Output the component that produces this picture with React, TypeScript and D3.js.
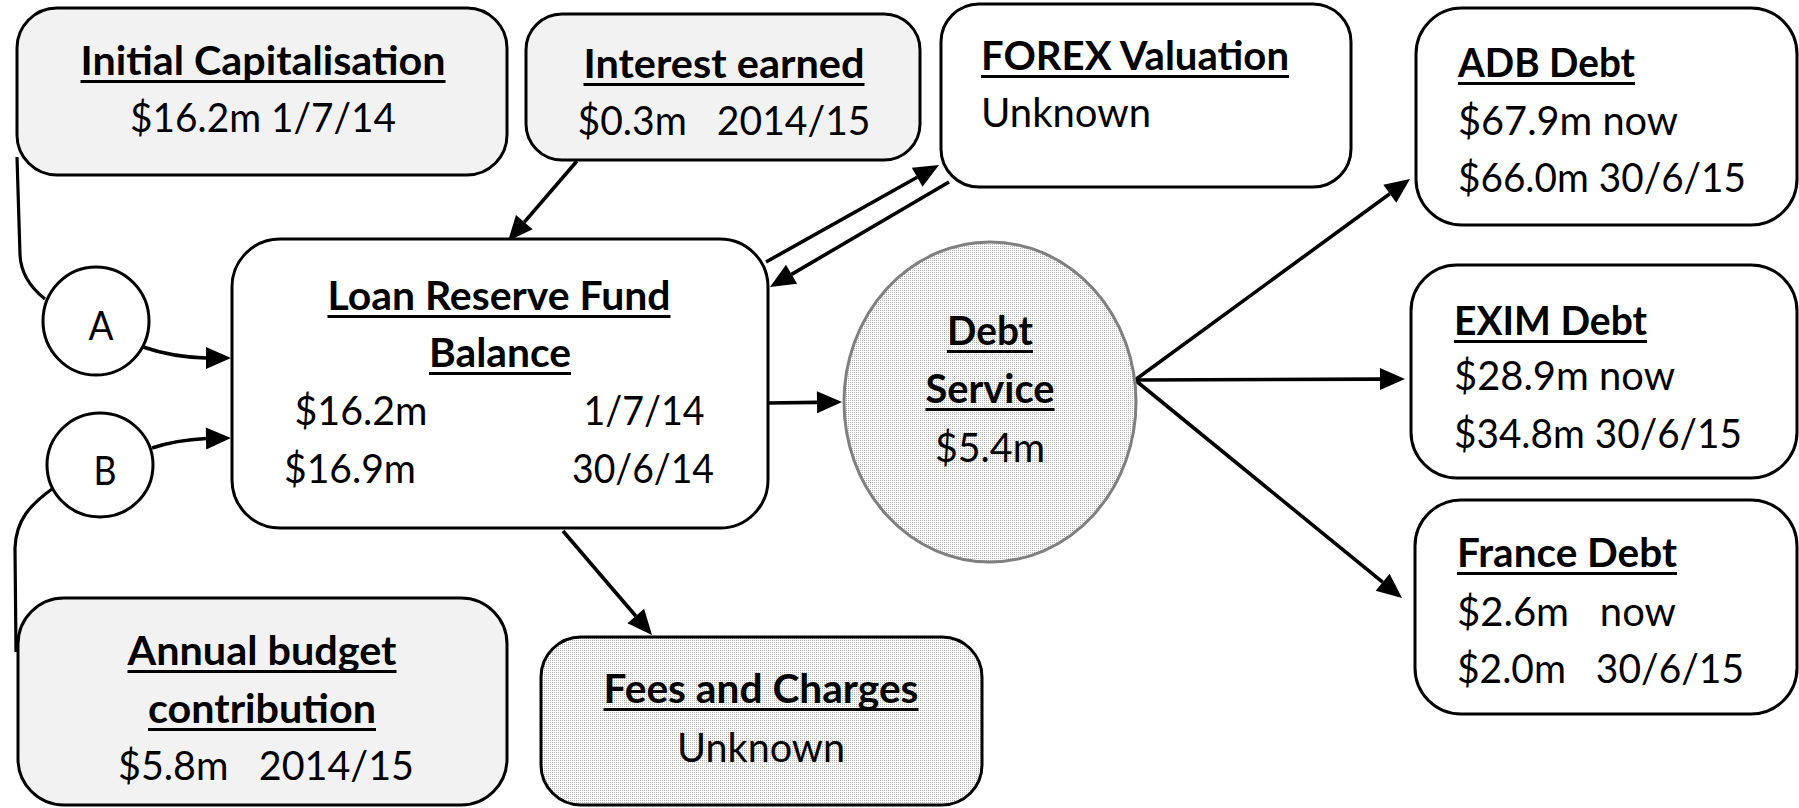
import React from "react";
import * as d3 from "d3";

// ---------- data (text content) ----------
const boxTitles = [
  "Initial Capitalisation",
  "Interest earned",
  "FOREX Valuation",
  "ADB Debt",
  "EXIM Debt",
  "France Debt",
  "Fees and Charges",
];
const boxValues = [
  ["$16.2m 1/7/14"],
  ["$0.3m\u00a0\u00a0 2014/15"],
  ["Unknown"],
  ["$67.9m now", "$66.0m 30/6/15"],
  ["$28.9m now", "$34.8m 30/6/15"],
  ["$2.6m\u00a0\u00a0 now", "$2.0m\u00a0\u00a0 30/6/15"],
  ["Unknown"],
];
const lrfTitle = ["Loan Reserve Fund", "Balance"];
const lrfAmounts = ["$16.2m", "$16.9m"];
const lrfDates = ["1/7/14", "30/6/14"];
const debtTitle = ["Debt", "Service"];
const debtValue = ["$5.4m"];
const annualTitle = ["Annual budget", "contribution"];
const annualValue = ["$5.8m\u00a0\u00a0 2014/15"];
const connectorLabels = ["A", "B"];

// ---------- layout ----------
const FONT = "Lato, 'Open Sans', 'DejaVu Sans', sans-serif";
const FS = 40;
const GREY = "#f2f2f2";

type Txt = { t: string; x: number; y: number; w: number; bold?: boolean; anchor?: "start" | "middle"; ul?: boolean };

const boxLayout = [
  { x: 17, y: 8, w: 490, h: 167, r: 40, fill: GREY, align: "middle", tx: 263, ty: [75, 132], tw: [365, 266] },
  { x: 526, y: 14, w: 394, h: 146, r: 36, fill: GREY, align: "middle", tx: 724, ty: [78, 135], tw: [281, 293] },
  { x: 941, y: 4, w: 410, h: 183, r: 38, fill: "#fff", align: "start", tx: 981, ty: [70, 127], tw: [308, 170] },
  { x: 1416, y: 8, w: 381, h: 217, r: 46, fill: "#fff", align: "start", tx: 1458, ty: [77, 135, 192], tw: [177, 220, 288] },
  { x: 1411, y: 265, w: 386, h: 213, r: 46, fill: "#fff", align: "start", tx: 1454, ty: [335, 390, 448], tw: [193, 221, 288] },
  { x: 1415, y: 500, w: 382, h: 214, r: 46, fill: "#fff", align: "start", tx: 1457, ty: [567, 626, 683], tw: [220, 219, 287] },
  { x: 541, y: 637, w: 441, h: 168, r: 40, fill: "url(#dots)", align: "middle", tx: 761, ty: [703, 762], tw: [315, 168] },
];

function arrowHead(x1: number, y1: number, x2: number, y2: number, len = 25, wid = 22) {
  const dx = x2 - x1, dy = y2 - y1;
  const d = Math.hypot(dx, dy);
  const ux = dx / d, uy = dy / d;
  const bx = x2 - ux * len, by = y2 - uy * len;
  const px = -uy * wid / 2, py = ux * wid / 2;
  return { base: [bx, by], tri: `M${x2},${y2}L${bx + px},${by + py}L${bx - px},${by - py}Z` };
}

const straightArrows: [number, number, number, number][] = [
  [577, 161, 508, 241],
  [766, 262, 939, 165],
  [949, 182, 770, 287],
  [768, 403, 842, 402],
  [563, 531, 652, 635],
  [1135, 380, 1410, 179],
  [1135, 380, 1405, 379],
  [1135, 380, 1402, 598],
];

function T({ t, x, y, w, bold, anchor = "middle", ul }: Txt) {
  const x0 = anchor === "middle" ? x - w / 2 : x;
  return (
    <g>
      <text
        x={x}
        y={y}
        fontFamily={FONT}
        fontSize={FS}
        fontWeight={bold ? 700 : 400}
        textAnchor={anchor}
        textLength={w}
        lengthAdjust="spacingAndGlyphs"
        fill="#000"
      >
        {t}
      </text>
      {ul && <line x1={x0} x2={x0 + w} y1={y + 6.5} y2={y + 6.5} stroke="#000" strokeWidth={3} />}
    </g>
  );
}

export default function App() {
  const texts: Txt[] = [];
  boxLayout.forEach((b, i) => {
    texts.push({ t: boxTitles[i], x: b.tx, y: b.ty[0], w: b.tw[0], bold: true, anchor: b.align as any, ul: true });
    boxValues[i].forEach((v, j) => {
      texts.push({ t: v, x: b.tx, y: b.ty[j + 1], w: b.tw[j + 1], anchor: b.align as any });
    });
  });
  texts.push({ t: lrfTitle[0], x: 499, y: 310, w: 343, bold: true, ul: true });
  texts.push({ t: lrfTitle[1], x: 500, y: 367, w: 142, bold: true, ul: true });
  texts.push({ t: lrfAmounts[0], x: 361, y: 425, w: 133 });
  texts.push({ t: lrfDates[0], x: 644, y: 425, w: 121 });
  texts.push({ t: lrfAmounts[1], x: 350, y: 483, w: 132 });
  texts.push({ t: lrfDates[1], x: 643, y: 483, w: 142 });
  texts.push({ t: debtTitle[0], x: 990, y: 345, w: 86, bold: true, ul: true });
  texts.push({ t: debtTitle[1], x: 990, y: 403, w: 129, bold: true, ul: true });
  texts.push({ t: debtValue[0], x: 990, y: 462, w: 110 });
  texts.push({ t: annualTitle[0], x: 262, y: 665, w: 269, bold: true, ul: true });
  texts.push({ t: annualTitle[1], x: 262, y: 723, w: 228, bold: true, ul: true });
  texts.push({ t: annualValue[0], x: 266, y: 780, w: 296 });
  texts.push({ t: connectorLabels[0], x: 101, y: 340, w: 25 });
  texts.push({ t: connectorLabels[1], x: 105, y: 485, w: 23 });

  const p1 = d3.path();
  p1.moveTo(17, 157);
  p1.lineTo(20, 255);
  p1.bezierCurveTo(21, 275, 31, 288, 45, 299);
  const p2 = d3.path();
  p2.moveTo(52, 489);
  p2.bezierCurveTo(30, 505, 16, 520, 15, 548);
  p2.lineTo(16, 652);
  const pA = d3.path();
  pA.moveTo(143, 347);
  pA.quadraticCurveTo(172, 357, 206, 358);
  const pB = d3.path();
  pB.moveTo(152, 448);
  pB.quadraticCurveTo(176, 440, 206, 438.5);

  return (
    <svg width={1799} height={808} style={{ position: "absolute", left: 0, top: 0, background: "#fff" }}>
      <defs>
        <pattern id="dots" width={2} height={2} patternUnits="userSpaceOnUse">
          <rect width={2} height={2} fill="#fff" />
          <rect width={1} height={1} fill="#b4b4b4" />
        </pattern>
      </defs>
      <rect width={1799} height={808} fill="#fff" />
      <path d={p1.toString()} fill="none" stroke="#000" strokeWidth={3.2} />
      <path d={p2.toString()} fill="none" stroke="#000" strokeWidth={3.2} />
      <path d={pA.toString()} fill="none" stroke="#000" strokeWidth={3.6} />
      <path d={pB.toString()} fill="none" stroke="#000" strokeWidth={3.6} />
      <path d={arrowHead(200, 358, 231, 358).tri} fill="#000" />
      <path d={arrowHead(200, 438.5, 231, 438).tri} fill="#000" />
      {straightArrows.map(([x1, y1, x2, y2], i) => {
        const a = arrowHead(x1, y1, x2, y2);
        return (
          <g key={i}>
            <line x1={x1} y1={y1} x2={a.base[0]} y2={a.base[1]} stroke="#000" strokeWidth={3.6} />
            <path d={a.tri} fill="#000" />
          </g>
        );
      })}
      {boxLayout.map((b, i) => (
        <rect key={i} x={b.x} y={b.y} width={b.w} height={b.h} rx={b.r} ry={b.r} fill={b.fill} stroke="#000" strokeWidth={3} />
      ))}
      <rect x={232} y={239} width={536} height={289} rx={48} ry={48} fill="#fff" stroke="#000" strokeWidth={3} />
      <rect x={18} y={598} width={489} height={207} rx={46} ry={46} fill={GREY} stroke="#000" strokeWidth={3} />
      <ellipse cx={990} cy={402} rx={146} ry={160} fill="url(#dots)" stroke="#7f7f7f" strokeWidth={3} />
      <ellipse cx={96} cy={321} rx={53} ry={54} fill="#fff" stroke="#000" strokeWidth={3} />
      <ellipse cx={100} cy={465} rx={53} ry={52} fill="#fff" stroke="#000" strokeWidth={3} />
      {texts.map((t, i) => (
        <T key={i} {...t} />
      ))}
    </svg>
  );
}
